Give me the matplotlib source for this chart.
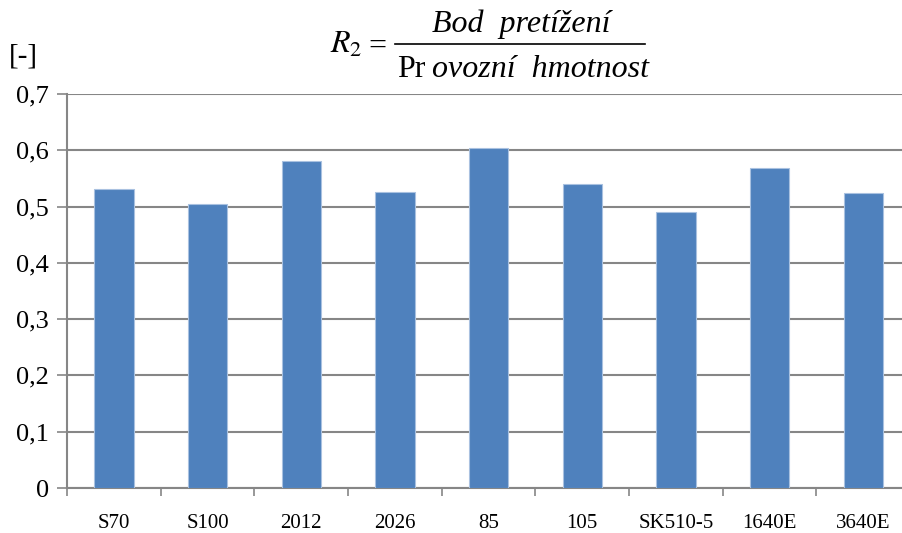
from matplotlib import pyplot as plt
from matplotlib.lines import Line2D
from matplotlib.ticker import FuncFormatter

plt.rcParams['font.family'] = ['Liberation Serif', 'DejaVu Serif']

categories = ['S70', 'S100', '2012', '2026', '85', '105', 'SK510-5', '1640E', '3640E']
values = [0.531, 0.505, 0.581, 0.526, 0.604, 0.540, 0.491, 0.569, 0.525]
y_ticks = [0, 0.1, 0.2, 0.3, 0.4, 0.5, 0.6, 0.7]

fig = plt.figure(figsize=(9.03, 5.33), dpi=100)
# osa schvalne presahuje pravy okraj jako v originale
ax = fig.add_axes([0.0742, 0.0844, 0.9336, 0.7392])

x = list(range(len(categories)))
ax.bar(x, values, width=0.42, color='#4F81BD', edgecolor='#A9C1E0', linewidth=0.8, zorder=3)

ax.set_xlim(-0.5, len(categories) - 0.5)
ax.set_ylim(0, 0.7)
ax.set_yticks(y_ticks)
ax.yaxis.set_major_formatter(FuncFormatter(lambda v, p: ('%g' % round(v, 1)).replace('.', ',')))
ax.grid(axis='y', color='#868686', linewidth=1.5, zorder=0)

ax.set_xticks(x)
ax.set_xticklabels(categories, fontsize=15)
ax.set_xticks([i - 0.5 for i in range(len(categories) + 1)], minor=True)
ax.tick_params(axis='x', which='major', length=0, pad=19)
ax.tick_params(axis='x', which='minor', length=6, width=1.2, color='#868686', direction='out')
ax.tick_params(axis='y', length=7, width=1.2, color='#868686', labelsize=19, pad=6)

for s in ['top', 'right']:
    ax.spines[s].set_visible(False)
for s in ['left', 'bottom']:
    ax.spines[s].set_color('#868686')
    ax.spines[s].set_linewidth(1.5)

# jednotka osy y
fig.text(9 / 903, 1 - 56 / 533, '[-]', fontsize=21, va='center', ha='left')

# vzorec v nadpisu
fig.text(330 / 903, 1 - 53 / 533, '$R_2$', fontsize=23, va='baseline', ha='left',
         math_fontfamily='stix')
fig.text(377 / 903, 1 - 44 / 533, '=', fontsize=23, va='center_baseline', ha='center')
fig.add_artist(Line2D([395 / 903, 645 / 903], [1 - 44 / 533, 1 - 44 / 533],
                      transform=fig.transFigure, color='black', linewidth=1.2))
fig.text(521 / 903, 1 - 32 / 533, 'Bod  pretížení', fontsize=23, style='italic',
         va='baseline', ha='center')
fig.text(397 / 903, 1 - 77 / 533, 'Pr', fontsize=23, va='baseline', ha='left')
fig.text(432 / 903, 1 - 77 / 533, 'ovozní  hmotnost', fontsize=23, style='italic',
         va='baseline', ha='left')

plt.savefig('out.png', dpi=100)
